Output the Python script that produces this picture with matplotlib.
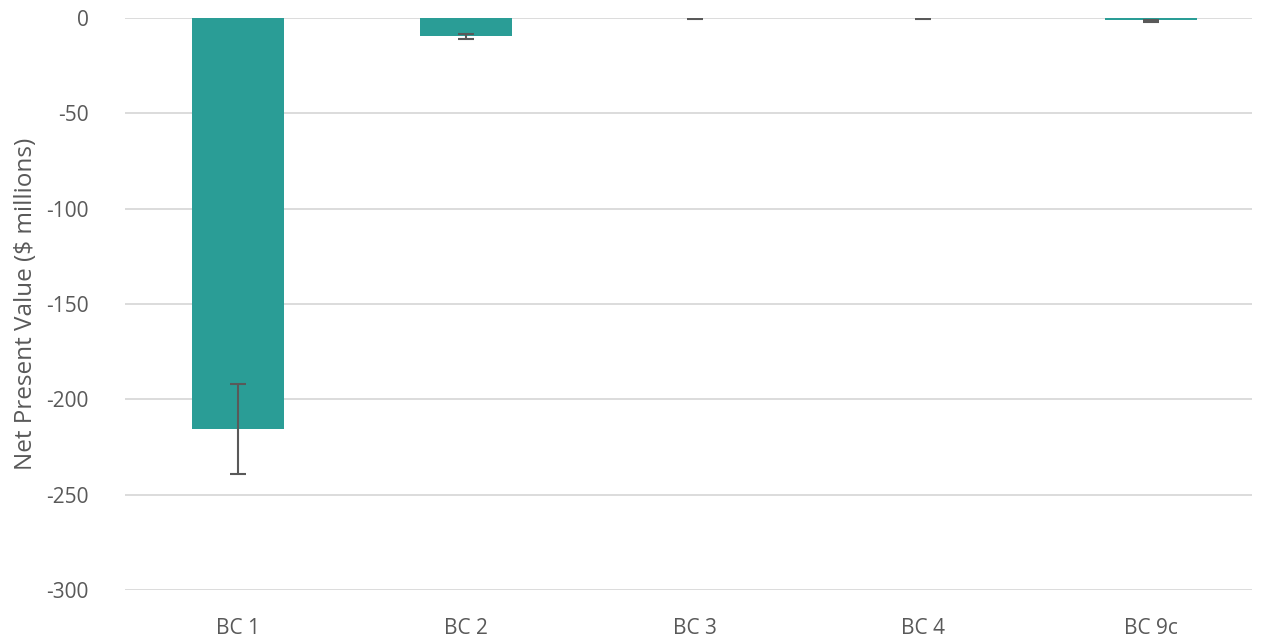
import matplotlib.pyplot as plt
import numpy as np

categories = ['BC 1', 'BC 2', 'BC 3', 'BC 4', 'BC 9c']
npv = [-215.4, -9.7, -0.2, -0.2, -1.2]
err_low = [23.8, 1.3, 0.3, 0.3, 0.9]
err_high = [23.3, 1.3, 0.3, 0.3, 0.3]

plt.rcParams['font.family'] = ['Open Sans', 'DejaVu Sans']
plt.rcParams['axes.unicode_minus'] = False
text_color = '#595959'

fig = plt.figure(figsize=(12.69, 6.43), dpi=100)
ax = fig.add_axes([0.0985, 0.0824, 0.888, 0.8896])

x = np.arange(len(categories))
ax.bar(x, npv, width=0.403, color='#2A9D96', zorder=3,
       yerr=[err_low, err_high], ecolor='#595959', capsize=6,
       error_kw={'elinewidth': 1.5, 'capthick': 1.5, 'zorder': 4})

ax.set_xlim(-0.495, 4.44)
ax.set_ylim(-300, 0)
ax.set_yticks(np.arange(-300, 1, 50))
ax.set_xticks(x)
ax.set_xticklabels(categories)
ax.grid(axis='y', color='#D9D9D9', linewidth=1.3, zorder=0)
ax.set_axisbelow(True)
for s in ax.spines.values():
    s.set_visible(False)
ax.tick_params(axis='both', length=0, labelsize=15, colors=text_color)
ax.tick_params(axis='y', pad=26)
ax.tick_params(axis='x', pad=20)
ax.set_ylabel('Net Present Value ($ millions)', fontsize=17.5, color=text_color, labelpad=6)

fig.savefig('out.png', dpi=100)
